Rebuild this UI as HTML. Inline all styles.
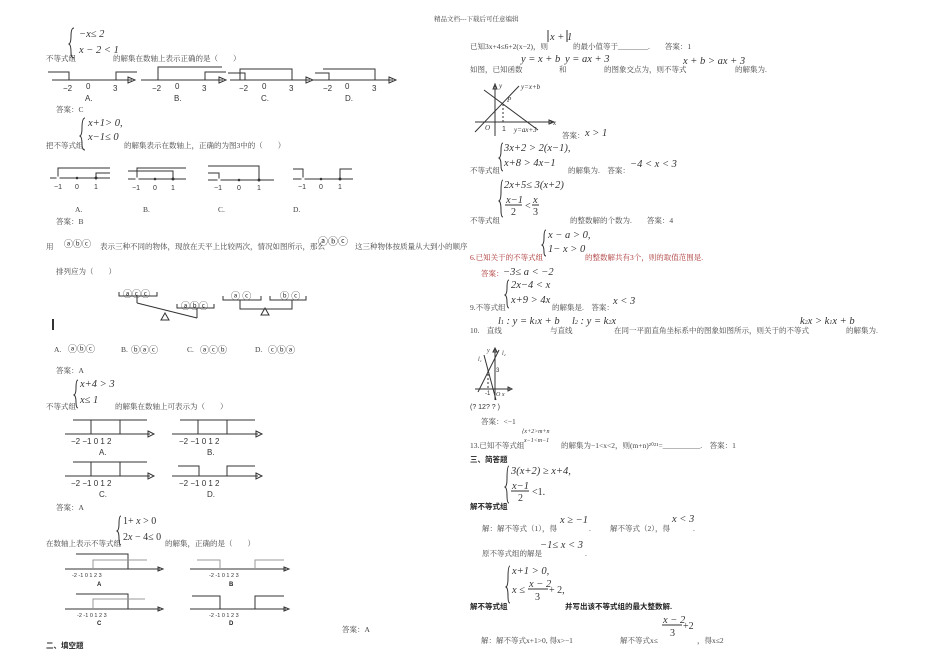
<!DOCTYPE html>
<html><head><meta charset="utf-8"><style>
html,body{margin:0;padding:0;background:#fff;width:950px;height:672px;overflow:hidden}
svg{display:block}
.c{font-family:"Liberation Serif","Noto Serif CJK SC",serif;font-size:7.5px;fill:#444}
.m{font-family:"Liberation Serif",serif;font-size:10px;fill:#333}
.mi{font-family:"Liberation Serif",serif;font-size:10.5px;fill:#333;font-style:italic}
.s{font-family:"Liberation Sans",sans-serif;font-size:8px;fill:#333}
.b{font-family:"Liberation Sans","Noto Sans CJK SC",sans-serif;font-size:7.5px;font-weight:bold;fill:#222}
.r{fill:#a33}
line,polyline,path{stroke:#333;stroke-width:1;fill:none}
.g{stroke:#999}
</style></head><body>
<svg width="950" height="672" viewBox="0 0 950 672" xmlns="http://www.w3.org/2000/svg">
<text class="c" x="434" y="21" style="font-size:6.5px">精品文档---下载后可任意编辑</text>

<!-- Q1 -->
<text class="mi" x="79" y="37">−x≤ 2</text>
<text class="mi" x="79" y="53">x − 2 &lt; 1</text>
<text class="c" x="46" y="61">不等式组</text>
<text class="c" x="113" y="61">的解集在数轴上表示正确的是（　　）</text>
<path d="M74 28 Q71 28 71 36 Q71 43 69 44 Q71 45 71 52 Q71 58 74 58"/>
<g>
<line x1="52" y1="80" x2="132" y2="80"/><path d="M128 77 L135 80 L128 83Z" fill="#333"/>
<polyline points="48,72 69,72 69,80"/><polyline points="116,80 116,72 137,72"/>
<line x1="141" y1="80" x2="223" y2="80"/><path d="M219 77 L226 80 L219 83Z" fill="#333"/>
<polyline points="158,80 158,67 222,67"/><polyline points="205,80 205,72 226,72"/>
<line x1="230" y1="80" x2="310" y2="80"/><path d="M306 77 L313 80 L306 83Z" fill="#333"/>
<polyline points="240,80 240,69 292,69 292,80"/><polyline points="228,73 245,73 245,80"/>
<line x1="313" y1="80" x2="393" y2="80"/><path d="M389 77 L396 80 L389 83Z" fill="#333"/>
<polyline points="315,73 329,73 329,80"/><polyline points="323,69 375,69 375,80"/>
<text class="s" x="63" y="91">−2</text><text class="s" x="86" y="89">0</text><text class="s" x="113" y="91">3</text>
<text class="s" x="152" y="91">−2</text><text class="s" x="175" y="89">0</text><text class="s" x="202" y="91">3</text>
<text class="s" x="239" y="91">−2</text><text class="s" x="262" y="89">0</text><text class="s" x="289" y="91">3</text>
<text class="s" x="323" y="91">−2</text><text class="s" x="345" y="89">0</text><text class="s" x="372" y="91">3</text>
<text class="s" x="85" y="101">A.</text><text class="s" x="174" y="101">B.</text><text class="s" x="261" y="101">C.</text><text class="s" x="345" y="101">D.</text>
</g>
<text class="c" x="56" y="112">答案：C</text>

<!-- Q2 -->
<path d="M85 118 Q82 118 82 128 Q82 135 80 136 Q82 137 82 144 Q82 150 85 150"/>
<text class="mi" x="88" y="126">x+1&gt; 0,</text>
<text class="mi" x="88" y="140">x−1≤ 0</text>
<text class="c" x="46" y="148">把不等式组</text>
<text class="c" x="124" y="148">的解集表示在数轴上，正确的为图3中的（　　）</text>
<g>
<line x1="50" y1="178" x2="110" y2="178"/><polyline points="58,178 58,168 110,168"/><polyline points="96,178 96,173 110,173"/>
<line x1="128" y1="179" x2="186" y2="179"/><polyline points="128,171 173,171 173,179"/><polyline points="137,179 137,168 186,168"/>
<line x1="208" y1="180" x2="274" y2="180"/><polyline points="208,166 259,166 259,180"/><polyline points="208,173 219,173 219,180"/>
<line x1="293" y1="179" x2="353" y2="179"/><polyline points="293,169 303,169 303,179"/><polyline points="340,179 340,169 352,169"/>
<circle cx="58" cy="178" r="1.5" fill="#fff"/><circle cx="77" cy="178" r="1.3" fill="#333"/><circle cx="96" cy="178" r="1.5" fill="#333"/>
<circle cx="137" cy="179" r="1.5" fill="#fff"/><circle cx="155" cy="179" r="1.3" fill="#333"/><circle cx="173" cy="179" r="1.5" fill="#333"/>
<circle cx="219" cy="180" r="1.5" fill="#fff"/><circle cx="239" cy="180" r="1.3" fill="#333"/><circle cx="259" cy="180" r="1.5" fill="#333"/>
<circle cx="303" cy="179" r="1.5" fill="#fff"/><circle cx="321" cy="179" r="1.3" fill="#333"/><circle cx="340" cy="179" r="1.5" fill="#333"/>
<text class="s" x="54" y="189" style="font-size:7px">−1</text><text class="s" x="75" y="189" style="font-size:7px">0</text><text class="s" x="94" y="189" style="font-size:7px">1</text>
<text class="s" x="132" y="190" style="font-size:7px">−1</text><text class="s" x="153" y="190" style="font-size:7px">0</text><text class="s" x="171" y="190" style="font-size:7px">1</text>
<text class="s" x="214" y="190" style="font-size:7px">−1</text><text class="s" x="237" y="190" style="font-size:7px">0</text><text class="s" x="257" y="190" style="font-size:7px">1</text>
<text class="s" x="298" y="189" style="font-size:7px">−1</text><text class="s" x="319" y="189" style="font-size:7px">0</text><text class="s" x="338" y="189" style="font-size:7px">1</text>
<text class="c" x="75" y="212">A.</text><text class="c" x="143" y="212">B.</text><text class="c" x="218" y="212">C.</text><text class="c" x="293" y="212">D.</text>
</g>
<text class="c" x="56" y="224">答案：B</text>

<!-- Q3 -->
<text class="c" x="46" y="249">用</text>
<text class="m" x="64" y="247" style="font-size:9px">ⓐⓑⓒ</text>
<text class="c" x="100" y="249">表示三种不同的物体，现放在天平上比较两次，情况如图所示，那么</text>
<text class="m" x="318" y="245" style="font-size:10px">ⓐⓑⓒ</text>
<text class="c" x="355" y="249">这三种物体按质量从大到小的顺序</text>
<text class="c" x="56" y="274">排列应为（　　）</text>
<g>
<text class="m" x="123" y="297" style="font-size:9px">ⓐⓒⓒ</text><polyline points="119,292 119,296 157,296 157,292"/>
<line x1="137" y1="296" x2="137" y2="303"/><line x1="137" y1="303" x2="197" y2="318"/>
<text class="m" x="181" y="309" style="font-size:9px">ⓐⓑⓒ</text><polyline points="177,304 177,308 214,308 214,304"/>
<line x1="197" y1="308" x2="197" y2="318"/>
<path d="M165 313 L161 320 L169 320Z" fill="#aaa"/>
<text class="m" x="231" y="299" style="font-size:9px">ⓐ ⓒ</text><polyline points="223,296 223,300 261,300 261,296"/>
<text class="m" x="280" y="299" style="font-size:9px">ⓑ ⓒ</text><polyline points="270,296 270,300 306,300 306,296"/>
<polyline points="240,300 240,309 292,309 292,300"/>
<path d="M265 308 L261 315 L269 315Z" fill="#aaa"/>
<line x1="53" y1="319" x2="53" y2="330" style="stroke-width:2"/>
</g>
<text class="c" x="54" y="352">A.</text><text class="m" x="68" y="352" style="font-size:9px">ⓐⓑⓒ</text>
<text class="c" x="121" y="352">B.</text><text class="m" x="131" y="353" style="font-size:9px">ⓑⓐⓒ</text>
<text class="c" x="187" y="352">C.</text><text class="m" x="200" y="353" style="font-size:9px">ⓐⓒⓑ</text>
<text class="c" x="255" y="352">D.</text><text class="m" x="268" y="353" style="font-size:9px">ⓒⓑⓐ</text>
<text class="c" x="56" y="373">答案：A</text>

<!-- Q4 -->
<path d="M78 380 Q76 380 76 388 Q76 394 74 395 Q76 396 76 402 Q76 408 78 408"/>
<text class="mi" x="80" y="387">x+4 &gt; 3</text>
<text class="mi" x="80" y="403">x≤ 1</text>
<text class="c" x="46" y="409">不等式组</text>
<text class="c" x="115" y="409">的解集在数轴上可表示为（　　）</text>
<g>
<line x1="65" y1="434" x2="150" y2="434"/><path d="M148 431 L154 434 L148 437Z" fill="#333"/>
<polyline points="73,420 147,420"/><line x1="91" y1="420" x2="91" y2="434"/><line x1="120" y1="420" x2="120" y2="434"/>
<line x1="172" y1="434" x2="258" y2="434"/><path d="M256 431 L262 434 L256 437Z" fill="#333"/>
<polyline points="180,420 255,420"/><line x1="198" y1="420" x2="198" y2="434"/><line x1="227" y1="420" x2="227" y2="434"/>
<line x1="65" y1="476" x2="150" y2="476"/><path d="M148 473 L154 476 L148 479Z" fill="#333"/>
<polyline points="73,462 147,462"/><line x1="91" y1="462" x2="91" y2="476"/><line x1="120" y1="462" x2="120" y2="476"/>
<line x1="172" y1="476" x2="258" y2="476"/><path d="M256 473 L262 476 L256 479Z" fill="#333"/>
<polyline points="178,466 199,466 199,476"/><polyline points="227,476 227,466 255,466"/>
<text class="s" x="71" y="444">−2 −1 0  1  2</text><text class="s" x="179" y="444">−2 −1 0  1  2</text>
<text class="s" x="71" y="486">−2 −1 0  1  2</text><text class="s" x="179" y="486">−2 −1 0  1  2</text>
<text class="s" x="99" y="455">A.</text><text class="s" x="207" y="455">B.</text>
<text class="s" x="99" y="497">C.</text><text class="s" x="207" y="497">D.</text>
</g>
<text class="c" x="56" y="510">答案：A</text>

<!-- Q5 -->
<path d="M121 516 Q119 516 119 524 Q119 530 117 531 Q119 532 119 538 Q119 545 121 545"/>
<text class="m" x="123" y="524">1+ <tspan font-style="italic">x</tspan> &gt; 0</text>
<text class="m" x="123" y="540">2<tspan font-style="italic">x</tspan> − 4≤ 0</text>
<text class="c" x="46" y="546">在数轴上表示不等式组</text>
<text class="c" x="165" y="546">的解集，正确的是（　　）</text>
<g>
<line x1="65" y1="569" x2="160" y2="569"/><path d="M158 567 L163 569 L158 571Z" fill="#333"/>
<polyline points="76,554 128,554 128,569"/><polyline class="g" points="93,569 93,560 147,560"/>
<line x1="190" y1="569" x2="286" y2="569"/><path d="M284 567 L289 569 L284 571Z" fill="#333"/>
<polyline class="g" points="197,560 220,560 220,569"/><polyline class="g" points="255,569 255,560 284,560"/>
<line x1="65" y1="609" x2="160" y2="609"/><path d="M158 607 L163 609 L158 611Z" fill="#333"/>
<polyline points="76,594 128,594 128,609"/><polyline class="g" points="93,609 93,599 145,599"/>
<line x1="190" y1="609" x2="286" y2="609"/><path d="M284 607 L289 609 L284 611Z" fill="#333"/>
<polyline points="192,596 220,596 220,609"/><polyline points="255,609 255,596 284,596"/>
<text class="s" x="72" y="577" style="font-size:5.5px">-2 -1  0  1  2  3</text>
<text class="s" x="209" y="577" style="font-size:5.5px">-2 -1  0  1  2  3</text>
<text class="s" x="77" y="617" style="font-size:5.5px">-2 -1  0  1  2  3</text>
<text class="s" x="209" y="617" style="font-size:5.5px">-2 -1  0  1  2  3</text>
<text class="b" x="97" y="586" style="font-size:6px">A</text><text class="b" x="229" y="586" style="font-size:6px">B</text>
<text class="b" x="97" y="625" style="font-size:6px">C</text><text class="b" x="229" y="625" style="font-size:6px">D</text>
</g>
<text class="c" x="342" y="632">答案：A</text>
<text class="b" x="46" y="648">二、填空题</text>

<!-- Right column -->
<line x1="548" y1="30" x2="548" y2="42"/><line x1="567" y1="30" x2="567" y2="42"/>
<text class="mi" x="550" y="40">x + 1</text>
<text class="c" x="470" y="49">已知3x+4≤6+2(x−2)，则</text>
<text class="c" x="573" y="49">的最小值等于________.　　答案：1</text>
<text class="mi" x="521" y="62">y = x + b</text><text class="mi" x="565" y="62">y = ax + 3</text>
<text class="mi" x="683" y="64">x + b &gt; ax + 3</text>
<text class="c" x="470" y="72">如图，已知函数</text><text class="c" x="559" y="72">和</text>
<text class="c" x="604" y="72">的图象交点为，则不等式</text><text class="c" x="735" y="72">的解集为.</text>
<g>
<line x1="475" y1="122" x2="552" y2="122"/><path d="M549 120 L554 122 L549 124Z" fill="#333"/>
<line x1="495" y1="136" x2="495" y2="86"/><path d="M493 89 L495 84 L497 89Z" fill="#333"/>
<line x1="475" y1="132" x2="519" y2="86"/><line x1="484" y1="90" x2="538" y2="130"/>
<line x1="503" y1="104" x2="503" y2="122" style="stroke-dasharray:2,2"/>
<text class="mi" x="499" y="88" style="font-size:7px">y</text><text class="mi" x="521" y="89" style="font-size:7px">y=x+b</text>
<text class="mi" x="507" y="102" style="font-size:7px">P</text><text class="mi" x="553" y="125" style="font-size:7px">x</text>
<text class="mi" x="485" y="130" style="font-size:7px">O</text><text class="s" x="502" y="131" style="font-size:7px">1</text>
<text class="mi" x="514" y="132" style="font-size:7px">y=ax+3</text>
</g>
<text class="c" x="562" y="138">答案：</text><text class="mi" x="585" y="136">x &gt; 1</text>

<path d="M503 143 Q501 143 501 151 Q501 157 499 158 Q501 159 501 165 Q501 171 503 171"/>
<text class="mi" x="504" y="151">3x+2 &gt; 2(x−1),</text>
<text class="mi" x="504" y="166">x+8 &gt; 4x−1</text>
<text class="c" x="470" y="173">不等式组</text><text class="c" x="568" y="173">的解集为.　答案：</text>
<text class="mi" x="630" y="167">−4 &lt; x &lt; 3</text>

<path d="M503 180 Q501 180 501 192 Q501 200 499 201 Q501 202 501 210 Q501 217 503 217"/>
<text class="mi" x="504" y="188">2x+5≤ 3(x+2)</text>
<text class="mi" x="506" y="203">x−1</text><line x1="505" y1="205" x2="522" y2="205"/><text class="m" x="511" y="215">2</text>
<text class="m" x="525" y="209">&lt;</text><text class="mi" x="533" y="203">x</text><line x1="532" y1="205" x2="539" y2="205"/><text class="m" x="533" y="215">3</text>
<text class="c" x="470" y="223">不等式组</text><text class="c" x="570" y="223">的整数解的个数为.　　答案：4</text>

<path d="M546 230 Q544 230 544 238 Q544 244 542 245 Q544 246 544 252 Q544 256 546 256"/>
<text class="mi" x="548" y="238">x − a &gt; 0,</text>
<text class="mi" x="548" y="252">1− x &gt; 0</text>
<text class="c r" x="470" y="260">6.已知关于的不等式组</text>
<text class="c r" x="585" y="260">的整数解共有3个，则的取值范围是.</text>
<text class="c r" x="481" y="276">答案：</text><text class="mi" x="503" y="275">−3≤ a &lt; −2</text>

<path d="M509 280 Q507 280 507 288 Q507 294 505 295 Q507 296 507 302 Q507 308 509 308"/>
<text class="mi" x="511" y="288">2x−4 &lt; x</text>
<text class="mi" x="511" y="303">x+9 &gt; 4x</text>
<text class="c" x="470" y="310">9.不等式组</text><text class="c" x="552" y="310">的解集是.　答案：</text>
<text class="mi" x="613" y="304">x &lt; 3</text>

<text class="mi" x="498" y="324">l<tspan style="font-size:6px">1</tspan> : y = k<tspan style="font-size:6px">1</tspan>x + b</text>
<text class="mi" x="572" y="324">l<tspan style="font-size:6px">2</tspan> : y = k<tspan style="font-size:6px">2</tspan>x</text>
<text class="mi" x="800" y="324">k<tspan style="font-size:6px">2</tspan>x &gt; k<tspan style="font-size:6px">1</tspan>x + b</text>
<text class="c" x="470" y="333">10.　直线</text><text class="c" x="550" y="333">与直线</text>
<text class="c" x="614" y="333">在同一平面直角坐标系中的图象如图所示，则关于的不等式</text>
<text class="c" x="846" y="333">的解集为.</text>
<g>
<line x1="475" y1="389" x2="510" y2="389"/><path d="M508 387 L512 389 L508 391Z" fill="#333"/>
<line x1="495" y1="400" x2="495" y2="349"/><path d="M493 352 L495 348 L497 352Z" fill="#333"/>
<line x1="478" y1="392" x2="499" y2="350"/><line x1="484" y1="355" x2="496" y2="400"/>
<line x1="488" y1="370" x2="488" y2="389" style="stroke-dasharray:2,2"/>
<text class="mi" x="487" y="352" style="font-size:6px">y</text><text class="mi" x="502" y="355" style="font-size:6px">l₂</text>
<text class="mi" x="478" y="361" style="font-size:6px">l₁</text><text class="s" x="496" y="372" style="font-size:6px">3</text>
<text class="s" x="485" y="395" style="font-size:6px">-1</text><text class="mi" x="496" y="396" style="font-size:6px">O x</text>
</g>
<text class="s" x="470" y="409" style="font-size:7px">(?  12? ? )</text>
<text class="c" x="481" y="424">答案：&lt;−1</text>

<text class="mi" x="522" y="433" style="font-size:6px">{x+2&gt;m+n</text>
<text class="mi" x="524" y="442" style="font-size:6px">x−1&lt;m−1</text>
<text class="c" x="470" y="448">13.已知不等式组</text>
<text class="c" x="561" y="448">的解集为−1&lt;x&lt;2，则(m+n)²⁰²¹=__________.　答案：1</text>
<text class="b" x="470" y="462">三、简答题</text>

<path d="M509 466 Q507 466 507 479 Q507 486 505 487 Q507 488 507 495 Q507 503 509 503"/>
<text class="mi" x="511" y="474">3(x+2) ≥ x+4,</text>
<text class="mi" x="512" y="489">x−1</text><line x1="511" y1="491" x2="529" y2="491"/><text class="m" x="518" y="501">2</text>
<text class="m" x="532" y="495">&lt;1.</text>
<text class="b" x="470" y="509">解不等式组</text>
<text class="c" x="482" y="531">解：解不等式（1），得</text><text class="mi" x="560" y="523">x ≥ −1</text><text class="c" x="589" y="531">.</text>
<text class="c" x="610" y="531">解不等式（2），得</text><text class="mi" x="672" y="522">x &lt; 3</text><text class="c" x="693" y="531">.</text>
<text class="c" x="482" y="556">原不等式组的解是</text><text class="mi" x="540" y="548">−1≤ x &lt; 3</text><text class="c" x="585" y="556">.</text>

<path d="M510 566 Q508 566 508 578 Q508 586 506 587 Q508 588 508 596 Q508 603 510 603"/>
<text class="mi" x="512" y="574">x+1 &gt; 0,</text>
<text class="mi" x="512" y="593">x ≤</text>
<text class="mi" x="529" y="587">x − 2</text><line x1="528" y1="589" x2="548" y2="589"/><text class="m" x="535" y="600">3</text>
<text class="m" x="549" y="593">+ 2,</text>
<text class="b" x="470" y="609">解不等式组</text><text class="b" x="565" y="609">并写出该不等式组的最大整数解.</text>
<text class="mi" x="663" y="623">x − 2</text><line x1="662" y1="625" x2="682" y2="625"/><text class="m" x="670" y="636">3</text>
<text class="m" x="683" y="629">+2</text>
<text class="c" x="481" y="643">解：解不等式x+1&gt;0, 得x&gt;−1</text>
<text class="c" x="620" y="643">解不等式x≤</text><text class="c" x="697" y="643">，得x≤2</text>
</svg>
</body></html>
